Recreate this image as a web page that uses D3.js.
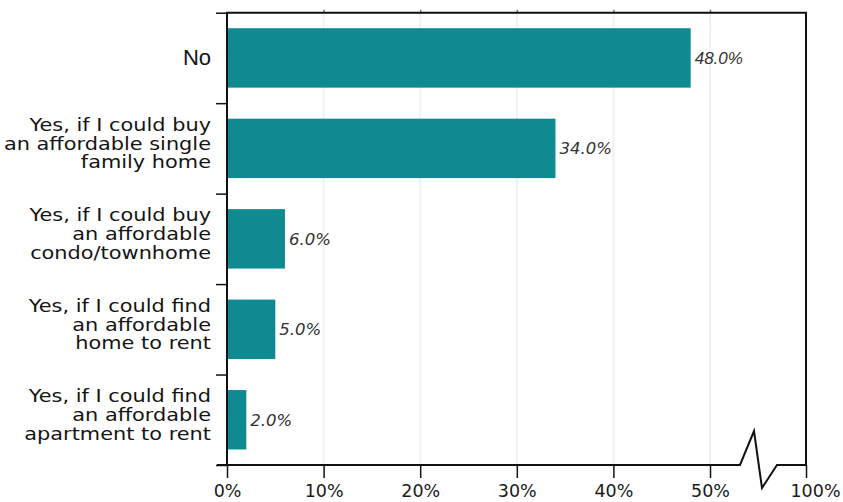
<!DOCTYPE html>
<html>
<head>
<meta charset="utf-8">
<script src="https://cdn.jsdelivr.net/npm/d3@7"></script>
<style>
  html, body { margin: 0; padding: 0; background: #ffffff; }
  svg { display: block; }
</style>
</head>
<body>
<svg id="chart" width="843" height="502"></svg>
<script>
// Survey answers, one wrapped label per bar
const categories = [
  "No",
  "Yes, if I could buy an affordable single family home",
  "Yes, if I could buy an affordable condo/townhome",
  "Yes, if I could find an affordable home to rent",
  "Yes, if I could find an affordable apartment to rent"
];
const categoryLines = [
  ["No"],
  ["Yes, if I could buy", "an affordable single", "family home"],
  ["Yes, if I could buy", "an affordable", "condo/townhome"],
  ["Yes, if I could find", "an affordable", "home to rent"],
  ["Yes, if I could find", "an affordable", "apartment to rent"]
];
// Share of respondents (%)
const values = [48.0, 34.0, 6.0, 5.0, 2.0];
const valueLabels = ["48.0%", "34.0%", "6.0%", "5.0%", "2.0%"];
// Value axis (broken between 50% and 100%)
const tickValues = [0, 10, 20, 30, 40, 50, 100];
const tickLabels = ["0%", "10%", "20%", "30%", "40%", "50%", "100%"];
const gridValues = [10, 20, 30, 40, 50];

const W = 843, H = 502;
const margin = { top: 12.7, right: 37, bottom: 37, left: 227 };
const x0 = margin.left, x1 = W - margin.right;
const y0 = margin.top, y1 = H - margin.bottom;

const svg = d3.select("#chart");

// Piecewise scale: 0–50% linear, then compressed to 100% after the break
const x = d3.scaleLinear().domain([0, 50, 100]).range([x0, 710, x1]);
const y = d3.scaleBand().domain(categories).range([y0, y1])
  .paddingInner(0.343).paddingOuter(0.343 / 2);
const yEdges = d3.scaleLinear().domain([0, categories.length]).range([y0, y1]);

const barColor = "#0f8a90";
const axisColor = "#111111";

// Faint vertical gridlines
svg.append("g")
  .selectAll("line")
  .data(gridValues)
  .join("line")
  .attr("x1", d => x(d)).attr("x2", d => x(d))
  .attr("y1", y0).attr("y2", y1)
  .attr("stroke", "#f1f1f1")
  .attr("stroke-width", 2);

// Bars
svg.append("g")
  .selectAll("rect")
  .data(values)
  .join("rect")
  .attr("x", x(0))
  .attr("y", (d, i) => y(categories[i]))
  .attr("width", d => x(d) - x(0))
  .attr("height", y.bandwidth())
  .attr("fill", barColor);

// Value labels
svg.append("g")
  .selectAll("text")
  .data(values)
  .join("text")
  .attr("x", d => x(d) + 4)
  .attr("y", (d, i) => y(categories[i]) + y.bandwidth() / 2 + 6)
  .attr("fill", "#333333")
  .attr("font-style", "italic")
  .attr("font-family", (d, i) => i === 0 ? "'Liberation Sans', Arial, sans-serif" : "'DejaVu Sans', Verdana, sans-serif")
  .attr("font-size", (d, i) => i === 0 ? 17 : 16.5)
  .text((d, i) => valueLabels[i]);

// Top ticks (tiny marks on the frame)
const topAxis = svg.append("g")
  .attr("transform", `translate(0,${y0})`)
  .call(d3.axisTop(x).tickValues(gridValues).tickSize(3).tickFormat(""));
topAxis.select(".domain").remove();
topAxis.selectAll(".tick line").attr("stroke", "#777").attr("stroke-width", 1.5);

// Left category ticks at band edges
const leftAxis = svg.append("g")
  .attr("transform", `translate(${x0},0)`)
  .call(d3.axisLeft(yEdges).tickValues(d3.range(categories.length + 1)).tickSize(11).tickFormat(""));
leftAxis.select(".domain").remove();
leftAxis.selectAll(".tick line").attr("stroke", axisColor).attr("stroke-width", 1.5);

// Category labels, right aligned and slightly widened
const labelGroup = svg.append("g");
categoryLines.forEach((lines, i) => {
  const cy = y(categories[i]) + y.bandwidth() / 2;
  const single = lines.length === 1;
  const g = labelGroup.append("g")
    .attr("transform", `translate(211,${cy}) scale(${single ? 1 : 1.2},1)`);
  const t = g.append("text")
    .attr("text-anchor", "end")
    .attr("fill", "#141414")
    .attr("font-family", single ? "'Liberation Sans Narrow', 'Liberation Sans', Arial, sans-serif" : "'DejaVu Sans', Verdana, sans-serif")
    .attr("font-size", single ? 22 : 17.4);
  if (single) {
    t.attr("y", 7.5).text(lines[0]);
  } else {
    lines.forEach((ln, k) => {
      t.append("tspan").attr("x", 0).attr("y", 1.3 + (k - 1) * 18.8).text(ln);
    });
  }
});

// Bottom axis ticks and labels
const bottomAxis = svg.append("g")
  .attr("transform", `translate(0,${y1})`)
  .call(d3.axisBottom(x).tickValues(tickValues).tickSize(13)
    .tickFormat((d, i) => tickLabels[i]));
bottomAxis.select(".domain").remove();
bottomAxis.selectAll(".tick line").attr("stroke", axisColor).attr("stroke-width", 1.5);
bottomAxis.selectAll(".tick text")
  .attr("fill", "#1a1a1a")
  .attr("font-family", "'DejaVu Sans', Verdana, sans-serif")
  .attr("font-size", 17.5)
  .attr("dy", null)
  .attr("y", 32)
  .attr("dx", d => d === 100 ? 9 : 0);

// Frame: left, top, right
svg.append("path")
  .attr("d", `M${x0},${y1} V${y0} H${x1} V${y1}`)
  .attr("fill", "none")
  .attr("stroke", axisColor)
  .attr("stroke-width", 2);

// Bottom axis line with a zigzag break between 50% and 100%
const bx = x(50) + 30;
const breakPath = d3.path();
breakPath.moveTo(x0 - 10, y1);
breakPath.lineTo(bx, y1);
breakPath.lineTo(bx + 14, y1 - 34);
breakPath.lineTo(bx + 22, y1 + 23);
breakPath.lineTo(bx + 37, y1);
breakPath.lineTo(x1, y1);
svg.append("path")
  .attr("d", breakPath.toString())
  .attr("fill", "none")
  .attr("stroke", axisColor)
  .attr("stroke-width", 2)
  .attr("stroke-linejoin", "miter");
</script>
</body>
</html>
